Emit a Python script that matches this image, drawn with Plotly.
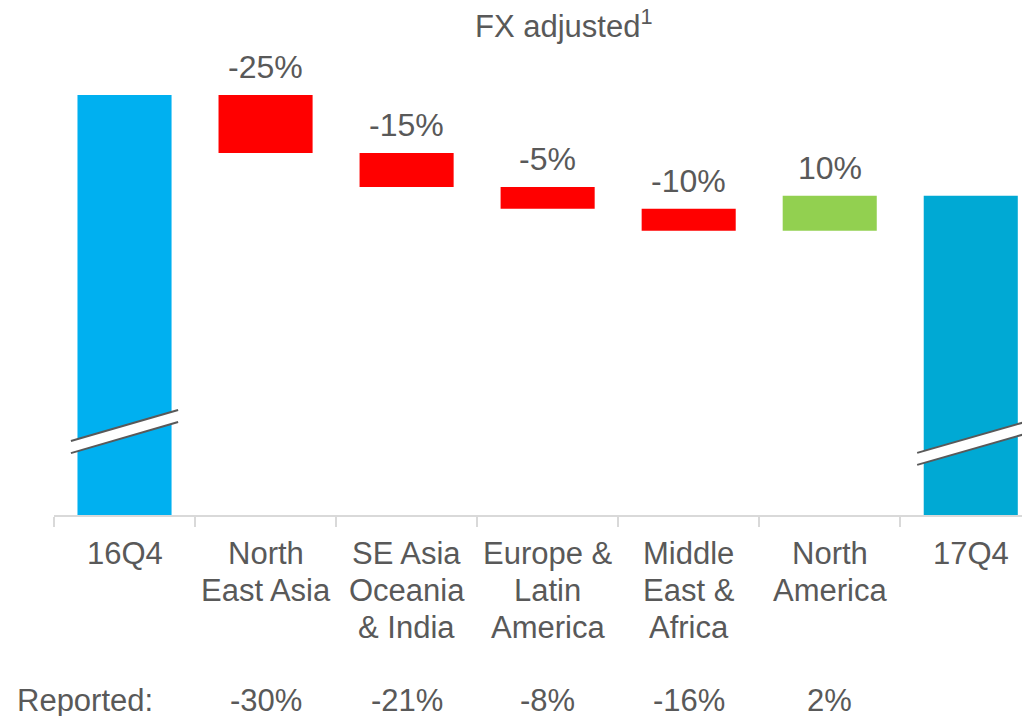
import plotly.graph_objects as go

# bar heights, index 16Q4 = 100 (axis is broken, no scale shown)
categories = ['16Q4', 'North<br>East Asia', 'SE Asia<br>Oceania<br>& India',
              'Europe &<br>Latin<br>America', 'Middle<br>East &<br>Africa',
              'North<br>America', '17Q4']
start_value = 100.0
changes = [-13.8, -8.1, -5.2, -5.2, 8.3]
end_value = 76.0
fx_labels = ['-25%', '-15%', '-5%', '-10%', '10%']
reported = ['-30%', '-21%', '-8%', '-16%', '2%']

GREY = '#595959'
FONT = 'Liberation Sans, Arial, sans-serif'

# build floating bars: base = lower edge, y = height
bases = [0]
heights = [start_value]
colors = ['#00B0F0']
level = start_value
for c in changes:
    new_level = level + c
    bases.append(min(level, new_level))
    heights.append(abs(c))
    colors.append('#92D050' if c > 0 else '#FF0000')
    level = new_level
bases.append(0)
heights.append(end_value)
colors.append('#00A9D4')

fig = go.Figure()
fig.add_trace(go.Bar(
    x=categories,
    y=heights,
    base=bases,
    width=0.667,
    marker=dict(color=colors, line=dict(width=0)),
    hoverinfo='skip',
))

annotations = []
# FX adjusted labels above the change bars
for i, lab in enumerate(fx_labels):
    annotations.append(dict(
        x=categories[i + 1], y=bases[i + 1] + heights[i + 1], xref='x', yref='y',
        text=lab, showarrow=False, yanchor='bottom', yshift=8,
        font=dict(size=32, color=GREY, family=FONT)
    ))

# category labels, one annotation per line for tighter line spacing
for cat in categories:
    for j, line in enumerate(cat.split('<br>')):
        annotations.append(dict(
            x=cat, y=0, xref='x', yref='paper', yshift=-38 - 37 * j,
            text=line, showarrow=False, yanchor='middle',
            font=dict(size=31, color=GREY, family=FONT)
        ))

# reported row
for i, lab in enumerate(reported):
    annotations.append(dict(
        x=categories[i + 1], y=0, xref='x', yref='paper', yshift=-185,
        text=lab, showarrow=False, yanchor='middle',
        font=dict(size=31, color=GREY, family=FONT)
    ))
annotations.append(dict(
    x=-0.04, y=0, xref='paper', yref='paper', xanchor='left', yshift=-185,
    text='Reported:', showarrow=False, yanchor='middle',
    font=dict(size=31, color=GREY, family=FONT)
))
annotations.append(dict(
    x=0.5225, y=1, xref='paper', yref='paper', yshift=-16,
    text='FX adjusted<sup>1</sup>', showarrow=False, yanchor='middle',
    font=dict(size=31, color=GREY, family=FONT)
))

# axis break marks on the two total bars
shapes = []
for cx, y0, y1 in [(0, 17.6, 25.0), (6, 14.8, 22.1)]:
    xl, xr = cx - 0.38, cx + 0.38
    gap = 2.86
    shapes.append(dict(
        type='path', xref='x', yref='y',
        path=f'M {xl} {y0} L {xr} {y1} L {xr} {y1 - gap} L {xl} {y0 - gap} Z',
        fillcolor='white', line=dict(width=0)
    ))
    for off in (0, gap):
        shapes.append(dict(
            type='line', xref='x', yref='y',
            x0=xl, y0=y0 - off, x1=xr, y1=y1 - off,
            line=dict(color=GREY, width=2)
        ))

# page body has an 8px margin, so the figure is 8px smaller each way
fig.update_layout(
    width=1022, height=708,
    margin=dict(l=46, r=0, t=0, b=201),
    plot_bgcolor='white', paper_bgcolor='white',
    showlegend=False,
    annotations=annotations,
    shapes=shapes,
    xaxis=dict(
        range=[-0.5, 6.42],
        showline=True, linecolor='#D9D9D9', linewidth=2,
        ticks='outside', tickson='boundaries', ticklen=10, tickcolor='#D9D9D9', tickwidth=2,
        showgrid=False, showticklabels=False,
    ),
    yaxis=dict(range=[0, 120.71], visible=False),
)

fig.write_html("out.html")
